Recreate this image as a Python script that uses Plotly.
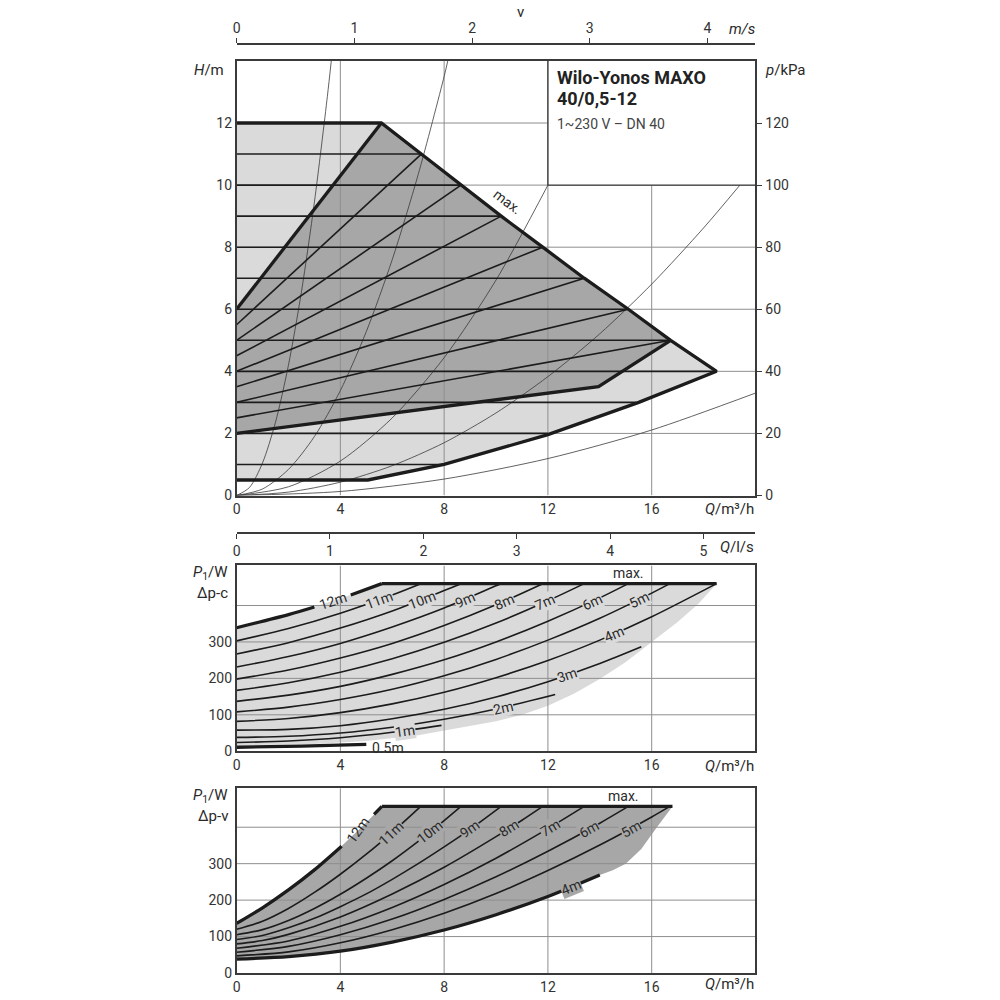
import plotly.graph_objects as go

FONT = "Roboto"
INK = "#1c1c1c"
GRID = "#8e8e8e"
FRAME = "#3a3a3a"
LIGHT = "#dadada"
DARK = "#a7a7a7"
TXT = "#2a2a2a"

# ---------------- ticks / grids ----------------
q_ticks = [0, 4, 8, 12, 16]
h_ticks = [0, 2, 4, 6, 8, 10, 12]
p_ticks = [0, 20, 40, 60, 80, 100, 120]
v_ticks = [0, 1, 2, 3, 4]
ls_ticks = [0, 1, 2, 3, 4, 5]
w_ticks = [0, 100, 200, 300]
h_grid = [2, 4, 6, 8, 10, 12]
w_grid = [100, 200, 300, 400]
q_grid = [4, 8, 12, 16]

# ---------------- top panel: H/m over Q ----------------
max_q = [5.58, 7.12, 8.65, 10.2, 11.8, 13.4, 15.1, 16.73, 18.5]
max_h = [12, 11, 10, 9, 8, 7, 6, 5, 4]
low_q = [0, 5.06, 8.0, 12.0, 15.5, 18.5]
low_h = [0.5, 0.5, 1.0, 1.96, 3.0, 4.0]
vlow_q = [0, 13.95, 16.73]
vlow_h = [2.0, 3.51, 5.0]

c_h = [0.5, 1, 2, 3, 4, 5, 6, 7, 8, 9, 10, 11, 12]
c_qend = [5.06, 8.0, 12.0, 15.4, 18.5, 16.73, 15.1, 13.4, 11.8, 10.2, 8.65, 7.12, 5.58]

v_h0 = [2.0, 2.5, 3.0, 3.5, 4.0, 4.5, 5.0, 5.5, 6.0]
v_qend = [13.95, 16.73, 15.1, 13.4, 11.8, 10.2, 8.65, 7.12, 5.58]
v_hend = [3.51, 5, 6, 7, 8, 9, 10, 11, 12]

sys1_q = [0, 0.5, 1, 1.5, 2, 2.5, 3, 3.5, 3.65]
sys1_h = [0, 0.26, 1.05, 2.36, 4.2, 6.56, 9.45, 12.86, 14.0]
sys2_q = [0, 1, 2, 3, 4, 5, 6, 7, 8, 8.14]
sys2_h = [0, 0.21, 0.84, 1.9, 3.38, 5.28, 7.6, 10.34, 13.5, 14.0]
sys3_q = [0, 2, 4, 6, 8, 10, 12]
sys3_h = [0, 0.28, 1.11, 2.5, 4.44, 6.94, 10.0]
sys4_q = [0, 2, 4, 6, 8, 10, 12, 14, 16, 18, 19.4]
sys4_h = [0, 0.11, 0.43, 0.96, 1.7, 2.66, 3.83, 5.21, 6.81, 8.62, 10.0]
sys5_q = [0, 4, 8, 12, 16, 20]
sys5_h = [0, 0.13, 0.53, 1.19, 2.11, 3.3]

box_q = [12, 20, 20, 12, 12]
box_h = [10, 10, 14, 14, 10]

# ---------------- middle panel: P1/W, Δp-c ----------------
c12_q = [0, 2, 4, 5.6];                      c12_p = [339, 375, 419, 460]
c12a_q = [0, 2, 3.0];                        c12a_p = [339, 375, 396]
c12b_q = [4.4, 5.6];                         c12b_p = [429, 460]
c11_q = [0, 2, 4, 6, 7.1];                   c11_p = [303, 337, 379, 429, 460]
c10_q = [0, 2, 4, 6, 8, 8.65];               c10_p = [267, 298, 338, 385, 441, 460]
c9_q = [0, 2, 4, 6, 8, 10, 10.2];            c9_p = [231, 260, 296, 341, 393, 454, 460]
c8_q = [0, 2, 4, 6, 8, 10, 11.8];            c8_p = [198, 223, 256, 296, 345, 402, 460]
c7_q = [0, 2, 4, 6, 8, 10, 12, 13.4];        c7_p = [167, 188, 217, 254, 299, 352, 413, 460]
c6_q = [0, 2, 4, 6, 8, 10, 12, 14, 15.1];    c6_p = [137, 154, 178, 211, 251, 300, 357, 421, 460]
c5_q = [0, 2, 4, 6, 8, 10, 12, 14, 16, 16.7]; c5_p = [108, 121, 142, 170, 207, 252, 305, 365, 434, 460]
c4_q = [0, 2, 4, 6, 8, 10, 12, 14, 16, 18.5]; c4_p = [82, 90, 106, 130, 162, 202, 249, 305, 369, 460]
c3_q = [0, 2, 4, 6, 8, 10, 12, 14, 15.6];    c3_p = [58, 60, 70, 89, 115, 149, 191, 241, 287]
c2_q = [0, 2, 4, 6, 8, 10, 12.28];           c2_p = [38, 41, 50, 66, 88, 116, 156]
c1_q = [0, 2, 4, 6, 7.9];                    c1_p = [24, 28, 37, 52, 71]
c05_q = [0, 2.5, 5];                         c05_p = [11, 14, 19]
cmax_q = [5.6, 18.5];                        cmax_p = [460, 460]
cedge_q = [18.5, 17.8, 17, 16, 15, 14, 13, 12, 11, 10, 8, 7, 5, 3, 0]
cedge_p = [460, 405, 355, 300, 245, 198, 158, 125, 100, 82, 56, 44, 28, 20, 16]

mid_lbl = ["11m", "10m", "9m", "8m", "7m", "6m", "5m", "4m", "3m", "2m", "1m"]
mid_lbl_q = [5.5, 7.15, 8.8, 10.3, 11.9, 13.7, 15.5, 14.55, 12.75, 10.26, 6.5]
mid_lbl_p = [416, 416, 416, 411, 409, 411, 416, 322, 209, 120, 56]
mid_lbl_ang = [-20, -21, -23, -23, -24, -25, -26, -23, -19, -13, -8]

# ---------------- bottom panel: P1/W, Δp-v ----------------
d12_q = [0, 1, 2, 3, 4, 5, 5.6];                    d12_p = [136, 179, 228, 283, 345, 413, 457]
d12a_q = [0, 1, 2, 3, 4.05];                        d12a_p = [136, 179, 228, 283, 348]
d12b_q = [5.3, 5.6];                                d12b_p = [435, 457]
d11_q = [0, 1, 2, 3, 4, 5, 6, 7.1];                 d11_p = [120, 142, 177, 221, 271, 326, 386, 457]
d10_q = [0, 1, 2, 3, 4, 5, 6, 7, 8, 8.65];          d10_p = [105, 119, 144, 177, 216, 260, 308, 361, 418, 457]
d9_q = [0, 1, 2, 3, 4, 5, 6, 7, 8, 9, 10.2];        d9_p = [92, 103, 124, 150, 182, 217, 257, 300, 346, 394, 457]
d8_q = [0, 1, 2, 4, 6, 8, 10, 11, 11.8];            d8_p = [80, 89, 106, 154, 217, 290, 374, 419, 457]
d7_q = [0, 2, 4, 6, 8, 10, 12, 13.4];               d7_p = [68, 88, 128, 180, 243, 315, 396, 457]
d6_q = [0, 2, 4, 6, 8, 10, 12, 14, 15.1];           d6_p = [57, 73, 105, 148, 202, 264, 334, 411, 457]
d5_q = [0, 2, 4, 6, 8, 10, 12, 14, 16, 16.7];       d5_p = [47, 58, 83, 119, 164, 218, 281, 351, 428, 457]
d4_q = [0, 2, 4, 6, 8, 10, 12, 14];                 d4_p = [38, 45, 60, 85, 118, 160, 210, 269]
dmax_q = [5.6, 16.8];                               dmax_p = [457, 457]
dedge_q = [16.8, 16.2, 15.6, 15.0, 14.5, 14.0]
dedge_p = [457, 400, 340, 300, 282, 269]

bot_lbl = ["11m", "10m", "9m", "8m", "7m", "6m", "5m", "4m"]
bot_lbl_q = [5.97, 7.44, 8.98, 10.5, 12.07, 13.6, 15.2, 12.9]
bot_lbl_p = [384, 386, 394, 397, 399, 395, 396, 236]
bot_lbl_ang = [-43, -38, -35, -32, -31, -29, -29, -22]

# ======================================================
FIG = 1000
VSCALE = 0.993   # compensates the slight vertical squeeze seen in the rendered page


def PX(px):
    return (px - 1.5) / FIG


def PY(py):
    return 1 - (py / VSCALE) / FIG


fig = go.Figure()


def line(q, y, xa, ya, width, color=INK, shape="linear"):
    fig.add_trace(go.Scatter(x=q, y=y, xaxis=xa, yaxis=ya, mode="lines",
                             line=dict(color=color, width=width, shape=shape, smoothing=0.8),
                             hoverinfo="skip", showlegend=False))


def poly(q, y, xa, ya, color):
    fig.add_trace(go.Scatter(x=q, y=y, xaxis=xa, yaxis=ya, mode="lines", fill="toself",
                             fillcolor=color, line=dict(width=0, color=color),
                             hoverinfo="skip", showlegend=False))


def grid(xa, ya, xv, xmax, yv, ymax):
    gx, gy = [], []
    for v in xv:
        gx += [v, v, None]
        gy += [0, ymax, None]
    for v in yv:
        gx += [0, xmax, None]
        gy += [v, v, None]
    line(gx, gy, xa, ya, 1, GRID)


# ---------- top panel ----------
poly([0] + max_q + low_q[::-1], [12] + max_h + low_h[::-1], "x", "y", LIGHT)
poly([0] + max_q[:8] + vlow_q[::-1], [6] + max_h[:8] + vlow_h[::-1], "x", "y", DARK)
grid("x", "y", q_grid, 20, h_grid, 14)
for sq, sh in [(sys1_q, sys1_h), (sys2_q, sys2_h), (sys3_q, sys3_h), (sys4_q, sys4_h), (sys5_q, sys5_h)]:
    line(sq, sh, "x", "y", 0.8, "#3a3a3a", "spline")
for h, qe in zip(c_h, c_qend):
    line([0, qe], [h, h], "x", "y", 1.6)
for h0, qe, he in zip(v_h0, v_qend, v_hend):
    line([0, qe], [h0, he], "x", "y", 1.6)
line([0] + max_q + low_q[::-1], [12] + max_h + low_h[::-1], "x", "y", 3.3)
line([0, max_q[0]], [6, 12], "x", "y", 3.3)
line(vlow_q, vlow_h, "x", "y", 3.3)
poly(box_q, box_h, "x", "y", "white")
line([12, 12, 20], [14, 10, 10], "x", "y", 1.4, FRAME)

fig.add_trace(go.Scatter(x=[0], y=[0], xaxis="x2", yaxis="y", mode="markers",
                         marker=dict(opacity=0), hoverinfo="skip", showlegend=False))
fig.add_trace(go.Scatter(x=[0], y=[0], xaxis="x", yaxis="y2", mode="markers",
                         marker=dict(opacity=0), hoverinfo="skip", showlegend=False))

# ---------- middle panel ----------
poly(c12_q + cedge_q, c12_p + cedge_p, "x3", "y3", LIGHT)
grid("x3", "y3", q_grid, 20, w_grid, 510)
for cq, cp in [(c11_q, c11_p), (c10_q, c10_p), (c9_q, c9_p), (c8_q, c8_p), (c7_q, c7_p),
               (c6_q, c6_p), (c5_q, c5_p), (c4_q, c4_p), (c3_q, c3_p), (c2_q, c2_p), (c1_q, c1_p)]:
    line(cq, cp, "x3", "y3", 1.6, INK, "spline")
line(c12a_q, c12a_p, "x3", "y3", 3.3, INK, "spline")
line(c12b_q, c12b_p, "x3", "y3", 3.3, INK, "spline")
line(c05_q, c05_p, "x3", "y3", 3.3, INK, "spline")
line(cmax_q, cmax_p, "x3", "y3", 3.3)
fig.add_trace(go.Scatter(x=[0], y=[0], xaxis="x4", yaxis="y3", mode="markers",
                         marker=dict(opacity=0), hoverinfo="skip", showlegend=False))

# ---------- bottom panel ----------
poly(d12_q + dedge_q + d4_q[::-1], d12_p + dedge_p + d4_p[::-1], "x5", "y5", DARK)
grid("x5", "y5", q_grid, 20, w_grid, 507)
for dq, dp in [(d11_q, d11_p), (d10_q, d10_p), (d9_q, d9_p), (d8_q, d8_p), (d7_q, d7_p),
               (d6_q, d6_p), (d5_q, d5_p)]:
    line(dq, dp, "x5", "y5", 1.6, INK, "spline")
line(d12a_q, d12a_p, "x5", "y5", 3.3, INK, "spline")
line(d12b_q, d12b_p, "x5", "y5", 3.3, INK, "spline")
line(d4_q, d4_p, "x5", "y5", 3.3, INK, "spline")
line(dmax_q, dmax_p, "x5", "y5", 3.3)

# ---------- annotations ----------
ann = []


def txt(x, y, t, size=14, xa="paper", ya="paper", xanchor="center", yanchor="middle",
        angle=0, bg=None, color=TXT):
    d = dict(x=x, y=y, xref=xa, yref=ya, text=t, showarrow=False, xanchor=xanchor,
             yanchor=yanchor, textangle=angle, font=dict(family=FONT, size=size, color=color))
    if bg:
        d.update(bgcolor=bg, borderpad=0)
    ann.append(d)


txt(3.7, 412, "12m", 14, "x3", "y3", angle=-18)
for t, q, p, a in zip(mid_lbl, mid_lbl_q, mid_lbl_p, mid_lbl_ang):
    txt(q, p, t, 14, "x3", "y3", angle=a, bg=LIGHT)
txt(5.15, 9, "0.5m", 14, "x3", "y3", xanchor="left")
txt(15.1, 490, "max.", 14, "x3", "y3")
txt(4.68, 392, "12m", 14, "x5", "y5", angle=-54)
for t, q, p, a in zip(bot_lbl, bot_lbl_q, bot_lbl_p, bot_lbl_ang):
    txt(q, p, t, 14, "x5", "y5", angle=a, bg=DARK)
txt(14.9, 486, "max.", 14, "x5", "y5")
txt(10.45, 9.45, "max.", 14, "x", "y", angle=37)

txt(PX(520), PY(12), "v", 15)
txt(PX(742), PY(29), "<i>m/s</i>", 15)
txt(PX(224), PY(70), "<i>H</i>/m", 15, xanchor="right")
txt(PX(764), PY(70), "<i>p</i>/kPa", 15, xanchor="left")
txt(PX(757), PY(510), "<i>Q</i>/m³/h", 15, xanchor="right")
txt(PX(757), PY(767), "<i>Q</i>/m³/h", 15, xanchor="right")
txt(PX(757), PY(985), "<i>Q</i>/m³/h", 15, xanchor="right")
txt(PX(757), PY(548), "<i>Q</i>/l/s", 15, xanchor="right")
txt(PX(228), PY(574), "<i>P</i><sub>1</sub>/W", 15, xanchor="right")
txt(PX(228), PY(594), "Δp-c", 15, xanchor="right")
txt(PX(228), PY(797), "<i>P</i><sub>1</sub>/W", 15, xanchor="right")
txt(PX(228), PY(817), "Δp-v", 15, xanchor="right")
txt(PX(555), PY(78), "<b>Wilo-Yonos MAXO</b>", 18, xanchor="left", color="#222")
txt(PX(555), PY(99), "<b>40/0,5-12</b>", 18, xanchor="left", color="#222")
txt(PX(555), PY(124), "1~230 V – DN 40", 14, xanchor="left", color="#444")

tickfont = dict(family=FONT, size=14, color="#333")
xdom = [PX(235), PX(756)]
base_x = dict(range=[0, 20], tickvals=q_ticks, showgrid=False, zeroline=False, showline=True,
              mirror=True, linecolor=FRAME, linewidth=1.5, tickfont=tickfont, ticks="",
              domain=xdom, fixedrange=True)
base_y = dict(showgrid=False, zeroline=False, showline=True, mirror=True, linecolor=FRAME,
              linewidth=1.5, tickfont=tickfont, ticks="", fixedrange=True)

fig.update_layout(
    width=FIG, height=FIG, margin=dict(l=0, r=0, t=0, b=0),
    paper_bgcolor="white", plot_bgcolor="white", showlegend=False,
    font=dict(family=FONT, size=14, color="#333"),
    xaxis=dict(base_x, anchor="y"),
    yaxis=dict(base_y, domain=[PY(496), PY(61)], range=[0, 14], tickvals=h_ticks, anchor="x"),
    yaxis2=dict(overlaying="y", side="right", anchor="x", range=[0, 140], tickvals=p_ticks,
                showgrid=False, zeroline=False, showline=False, ticks="outside", ticklen=6,
                tickcolor=FRAME, tickwidth=1.2, tickfont=tickfont, fixedrange=True),
    xaxis2=dict(overlaying="x", side="top", anchor="free", position=PY(44), range=[0, 4.407],
                tickvals=v_ticks, showgrid=False, zeroline=False, showline=True,
                linecolor=FRAME, linewidth=1.5, ticks="outside", ticklen=5, tickcolor=FRAME,
                tickfont=tickfont, fixedrange=True),
    xaxis3=dict(base_x, anchor="y3"),
    yaxis3=dict(base_y, domain=[PY(752), PY(566)], range=[0, 510], tickvals=w_ticks, anchor="x3"),
    xaxis4=dict(overlaying="x3", side="bottom", anchor="free", position=PY(534), range=[0, 5.556],
                tickvals=ls_ticks, showgrid=False, zeroline=False, showline=True,
                linecolor=FRAME, linewidth=1.5, ticks="outside", ticklen=5, tickcolor=FRAME,
                tickfont=tickfont, fixedrange=True),
    xaxis5=dict(base_x, anchor="y5"),
    yaxis5=dict(base_y, domain=[PY(974), PY(789)], range=[0, 507], tickvals=w_ticks, anchor="x5"),
    annotations=ann,
)

POST = (
    "document.documentElement.style.margin='0px';"
    "document.documentElement.style.overflow='hidden';"
    "document.body.style.margin='0px';"
    "document.body.style.overflow='hidden';"
    "document.body.style.lineHeight='0';"
    "var gd=document.getElementsByClassName('plotly-graph-div')[0];"
    "gd.style.display='block';"
    "gd.parentNode.style.lineHeight='0';gd.parentNode.style.fontSize='0';"
    "document.querySelectorAll('.plot-container,.svg-container').forEach("
    "function(e){e.style.display='block';});"
)

fig.write_html("out.html", config={"displayModeBar": False}, post_script=POST)
